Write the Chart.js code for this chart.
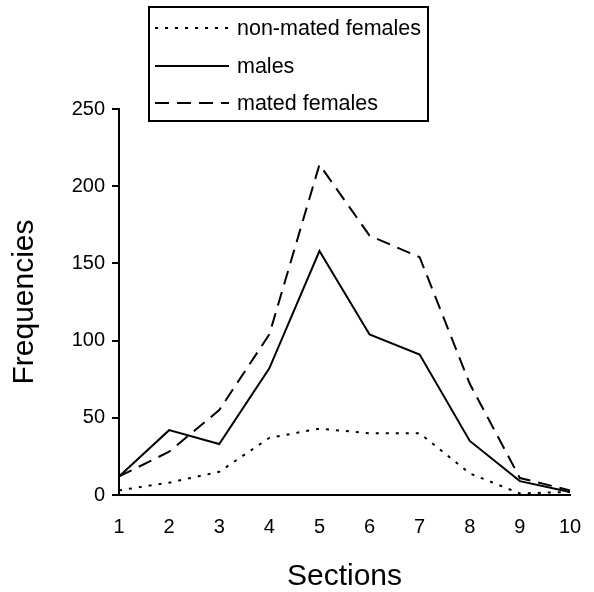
<!DOCTYPE html>
<html>
<head>
<meta charset="utf-8">
<script src="https://cdn.jsdelivr.net/npm/chart.js@4/dist/chart.umd.min.js"></script>
<style>
  html, body { margin: 0; padding: 0; background: #fff; }
  #wrap { width: 594px; height: 592px; position: relative; }
</style>
</head>
<body>
<div id="wrap"><canvas id="c" width="594" height="592"></canvas></div>
<script>
// ---- data ----
const sections = ['1', '2', '3', '4', '5', '6', '7', '8', '9', '10'];
const nonMatedFemales = [3, 8, 15, 37, 43, 40, 40, 14, 1, 2];
const males = [12, 42, 33, 82, 158, 104, 91, 35, 9, 2];
const matedFemales = [12, 28, 55, 104, 214, 168, 154, 72, 11, 3];
const yTicks = [0, 50, 100, 150, 200, 250];
const seriesNames = ['non-mated females', 'males', 'mated females'];

const FONT = "'Liberation Sans', Arial, sans-serif";

const boxLegend = {
  id: 'boxLegend',
  afterDraw(chart) {
    const ctx = chart.ctx;
    const x0 = 149, y0 = 7, w = 279, h = 114;
    ctx.save();
    ctx.fillStyle = '#fff';
    ctx.fillRect(x0, y0, w, h);
    ctx.strokeStyle = '#000';
    ctx.lineWidth = 2;
    ctx.setLineDash([]);
    ctx.strokeRect(x0, y0, w, h);
    const rows = [28, 66, 103];
    chart.data.datasets.forEach((ds, i) => {
      const y = rows[i];
      ctx.beginPath();
      ctx.setLineDash(ds.borderDash || []);
      ctx.lineWidth = ds.borderWidth;
      ctx.strokeStyle = ds.borderColor;
      ctx.moveTo(155, y);
      ctx.lineTo(229, y);
      ctx.stroke();
      ctx.setLineDash([]);
      ctx.fillStyle = '#000';
      ctx.font = '21.5px ' + FONT;
      ctx.textBaseline = 'middle';
      ctx.textAlign = 'left';
      ctx.fillText(ds.label, 237, y + 1);
    });
    ctx.restore();
  }
};

new Chart(document.getElementById('c'), {
  type: 'line',
  data: {
    labels: sections,
    datasets: [
      { label: seriesNames[0], data: nonMatedFemales, borderColor: '#000', borderWidth: 2, borderDash: [3, 7], pointRadius: 0, tension: 0, fill: false },
      { label: seriesNames[1], data: males, borderColor: '#000', borderWidth: 2, borderDash: [], pointRadius: 0, tension: 0, fill: false },
      { label: seriesNames[2], data: matedFemales, borderColor: '#000', borderWidth: 2, borderDash: [14, 8], pointRadius: 0, tension: 0, fill: false }
    ]
  },
  options: {
    responsive: false,
    animation: false,
    devicePixelRatio: 1,
    layout: { padding: { left: 0, right: 24, top: 109, bottom: 0 } },
    plugins: { legend: { display: false }, tooltip: { enabled: false } },
    scales: {
      x: {
        type: 'category',
        offset: false,
        grid: { display: false },
        border: { display: true, color: '#000', width: 2 },
        ticks: { color: '#000', font: { family: FONT, size: 20 }, padding: 12, maxRotation: 0, autoSkip: false },
        title: { display: true, text: 'Sections', color: '#000', font: { family: FONT, size: 30, lineHeight: 1 }, padding: { top: 0, bottom: 0 } },
        afterFit(scale) { scale.height = 97; }
      },
      y: {
        min: 0, max: 250,
        afterBuildTicks(scale) { scale.ticks = yTicks.map(v => ({ value: v })); },
        grid: { display: true, drawOnChartArea: false, drawTicks: true, tickLength: 7, color: '#000', lineWidth: 2 },
        border: { display: true, color: '#000', width: 2 },
        ticks: { color: '#000', font: { family: FONT, size: 20 }, padding: 7 },
        title: { display: true, text: 'Frequencies', color: '#000', font: { family: FONT, size: 30, lineHeight: 1 }, padding: { top: 10, bottom: 0 } },
        afterFit(scale) { scale.width = 119; }
      }
    }
  },
  plugins: [boxLegend]
});
</script>
</body>
</html>
